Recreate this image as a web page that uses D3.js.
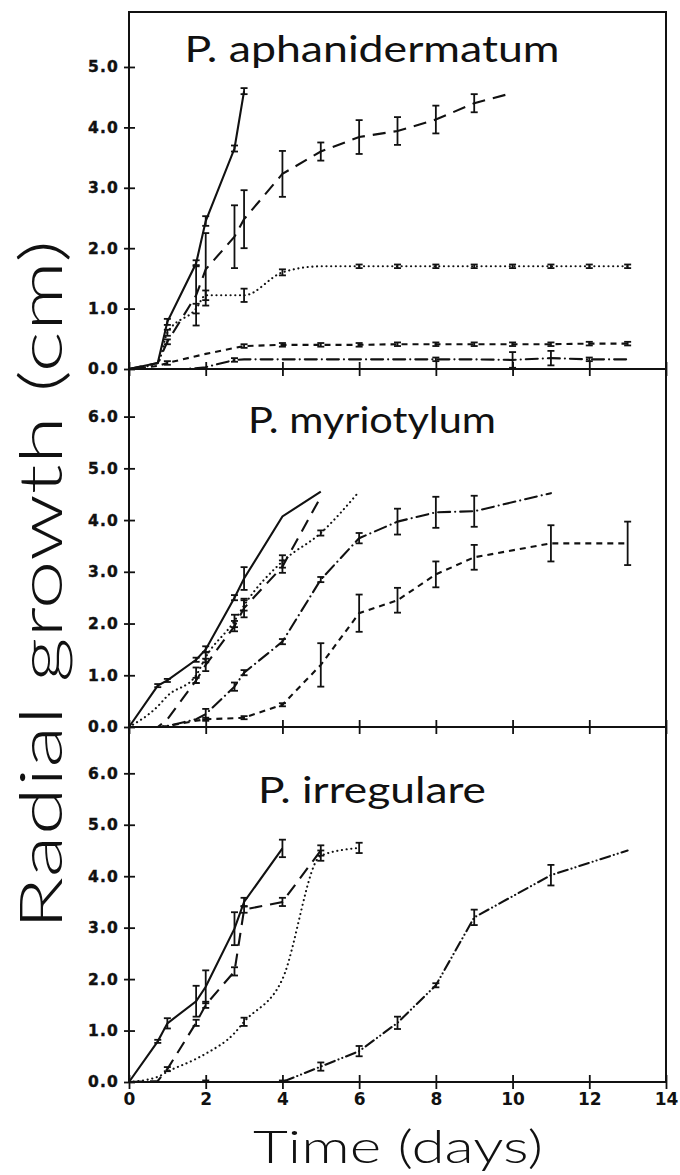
<!DOCTYPE html>
<html><head><meta charset="utf-8">
<script src="https://cdn.jsdelivr.net/npm/d3@7/dist/d3.min.js"></script>
<style>body{margin:0;background:#fff}</style>
</head><body>
<svg id="c" width="680" height="1175"></svg>
<script>
// ---------- DATA ----------
const xTicks = [0, 2, 4, 6, 8, 10, 12, 14];
const yTicksTop = [0, 1, 2, 3, 4, 5];
const yTicksLower = [0, 1, 2, 3, 4, 5, 6];
const panelTitles = ["P. aphanidermatum", "P. myriotylum", "P. irregulare"];
const xTitle = "Time (days)";
const yTitle = "Radial growth (cm)";

// each point: [day, radial growth (cm), error]
// P. aphanidermatum
const aphSolid = [[0,0,0],[0.75,0.1,0],[1,0.78,0.05],[1.75,1.75,0.05],[2,2.45,0.08],[2.75,3.65,0.05],[3,4.6,0.05]];
const aphLongDash = [[0,0,0],[0.75,0.1,0],[1,0.45,0.04],[1.75,1.22,0.5],[2,1.65,0.6],[2.75,2.19,0.52],[3,2.48,0.48],[4,3.23,0.38],[5,3.6,0.15],[6,3.84,0.28],[7,3.94,0.23],[8,4.13,0.23],[9,4.4,0.15],[10,4.57,0]];
const aphDotted = [[0,0,0],[0.75,0.1,0],[1,0.6,0.05],[1.75,1.0,0.08],[2,1.22,0.08],[3,1.22,0.11],[4,1.6,0.05],[5,1.7,0],[6,1.7,0.03],[7,1.7,0.03],[8,1.7,0.03],[9,1.7,0.03],[10,1.7,0.03],[11,1.7,0.03],[12,1.7,0.03],[13,1.7,0.03]];
const aphShortDash = [[0,0,0],[0.75,0.05,0],[1,0.1,0.03],[2,0.25,0],[3,0.38,0.03],[4,0.4,0.03],[5,0.4,0.03],[6,0.4,0.03],[7,0.41,0.03],[8,0.41,0.03],[9,0.41,0.03],[10,0.41,0.03],[11,0.41,0.03],[12,0.42,0.03],[13,0.42,0.03]];
const aphDashDot = [[0,0,0],[0.75,0,0],[1.5,0,0],[2,0.03,0],[2.75,0.15,0.03],[3,0.16,0],[4,0.16,0],[5,0.16,0],[6,0.16,0],[7,0.16,0],[8,0.16,0.03],[9,0.16,0],[10,0.15,0.13],[11,0.18,0.12],[12,0.16,0.03],[13,0.16,0]];

// P. myriotylum
const myrSolid = [[0,0,0],[0.75,0.8,0.03],[1,0.9,0.03],[1.75,1.3,0.04],[2,1.5,0.06],[2.75,2.5,0.05],[3,2.87,0.22],[4,4.07,0],[5,4.55,0]];
const myrLongDash = [[0,0,0],[0.75,0,0],[1,0.15,0],[1.75,0.9,0.05],[2,1.2,0.12],[2.75,1.95,0.1],[3,2.3,0.18],[4,3.1,0.12],[5,4.45,0]];
const myrDotted = [[0,0,0],[0.75,0.4,0],[1,0.6,0],[1.75,1.0,0.15],[2,1.35,0.1],[2.75,2.05,0.12],[3,2.35,0.1],[4,3.2,0.12],[5,3.75,0.05],[6,4.55,0]];
const myrDashDot = [[0,0,0],[0.75,0,0],[1,0.02,0],[1.75,0.15,0],[2,0.25,0.1],[2.75,0.78,0.08],[3,1.05,0.05],[4,1.65,0.05],[5,2.85,0.05],[6,3.65,0.1],[7,3.97,0.25],[8,4.15,0.3],[9,4.17,0.3],[11,4.52,0]];
const myrShortDash = [[0,0,0],[0.75,0,0],[1,0.02,0],[1.75,0.12,0],[2,0.15,0.03],[2.75,0.17,0],[3,0.18,0.03],[4,0.43,0.03],[5,1.2,0.42],[6,2.2,0.36],[7,2.45,0.24],[8,2.95,0.25],[9,3.28,0.24],[11,3.55,0.35],[13,3.55,0.42]];

// P. irregulare
const irrSolid = [[0,0,0],[0.75,0.79,0.03],[1,1.14,0.1],[1.75,1.57,0.3],[2,1.85,0.32],[2.75,2.98,0.32],[3,3.5,0.08],[4,4.54,0.17]];
const irrLongDash = [[0,0,0],[0.75,0.02,0],[1,0.25,0.04],[1.75,1.15,0.06],[2,1.5,0.06],[2.75,2.15,0.08],[3,3.35,0.06],[4,3.5,0.08],[5,4.5,0.1]];
const irrDotted = [[0,0,0],[0.75,0.1,0],[1,0.2,0],[1.75,0.45,0],[2,0.55,0],[2.75,0.95,0],[3,1.17,0.08],[4,2.0,0],[5,4.4,0.1],[6,4.55,0.1]];
const irrDashDotDot = [[0,0,0],[1,0,0],[2,0,0.03],[3,0,0],[4,0,0.03],[5,0.3,0.08],[6,0.6,0.1],[7,1.15,0.12],[8,1.88,0.04],[9,3.2,0.15],[11,4.02,0.2],[13,4.5,0]];

// ---------- STYLES / LAYOUT ----------
const dashes = {
  solid: null,
  longdash: "13,8",
  dotted: "0.1,4.6",
  shortdash: "6,5",
  dashdot: "12,5,0.1,5",
  dashdotdot: "10,4,0.1,4,0.1,4"
};
const panels = [
  {title: panelTitles[0], top: 12, bottom: 369, ymax: 5.91, ticks: yTicksTop, titleY: 62, titleW: 375,
   series: [[aphSolid,"solid"],[aphLongDash,"longdash"],[aphDotted,"dotted"],[aphShortDash,"shortdash"],[aphDashDot,"dashdot"]]},
  {title: panelTitles[1], top: 369, bottom: 727, ymax: 6.92, ticks: yTicksLower, titleY: 433, titleW: 248,
   series: [[myrSolid,"solid"],[myrLongDash,"longdash"],[myrDotted,"dotted"],[myrDashDot,"dashdot"],[myrShortDash,"shortdash"]]},
  {title: panelTitles[2], top: 727, bottom: 1082, ymax: 6.9, ticks: yTicksLower, titleY: 803, titleW: 228,
   series: [[irrSolid,"solid"],[irrLongDash,"longdash"],[irrDotted,"dotted"],[irrDashDotDot,"dashdotdot"]]}
];

const L = 129, R = 666;
const svg = d3.select("#c");
const x = d3.scaleLinear().domain([0, 14]).range([L, R]);

panels.forEach((p, i) => {
  const y = d3.scaleLinear().domain([0, p.ymax]).range([p.bottom, p.top]);
  const g = svg.append("g");

  // frame
  g.append("rect").attr("x", L).attr("y", p.top).attr("width", R - L).attr("height", p.bottom - p.top)
    .attr("fill", "none").attr("stroke", "#111").attr("stroke-width", 2);

  // y axis
  const ya = g.append("g").attr("transform", `translate(${L},0)`)
    .call(d3.axisLeft(y).tickValues(p.ticks).tickFormat(d3.format(".1f")).tickSize(5).tickPadding(5));
  ya.select(".domain").remove();
  ya.selectAll(".tick line").attr("x1", 6).attr("stroke", "#111").attr("stroke-width", 1.8);
  ya.selectAll(".tick text").attr("font-family", "DejaVu Sans").attr("font-weight", "bold")
    .attr("font-size", 15.5).attr("letter-spacing", 1.2).attr("fill", "#111")
    .attr("stroke", "#111").attr("stroke-width", 0.4);

  // x axis at panel bottom
  const xa = g.append("g").attr("transform", `translate(0,${p.bottom})`)
    .call(d3.axisBottom(x).tickValues(xTicks).tickSize(7).tickPadding(4)
      .tickFormat(i === panels.length - 1 ? d3.format("d") : () => ""));
  xa.select(".domain").remove();
  xa.selectAll(".tick line").attr("y1", -7).attr("stroke", "#111").attr("stroke-width", 1.8);
  xa.selectAll(".tick text").attr("font-family", "DejaVu Sans").attr("font-weight", "bold")
    .attr("font-size", 17).attr("fill", "#111");

  // title
  g.append("text").attr("x", 372).attr("y", p.titleY).attr("text-anchor", "middle")
    .attr("font-family", "Lato").attr("font-size", 37).attr("fill", "#111")
    .attr("textLength", p.titleW).attr("lengthAdjust", "spacingAndGlyphs").text(p.title);

  // series
  p.series.forEach(([data, style]) => {
    const line = d3.line().x(d => x(d[0])).y(d => y(d[1]))
      .curve(style === "dotted" ? d3.curveMonotoneX : d3.curveLinear);
    const path = g.append("path").datum(data).attr("d", line)
      .attr("fill", "none").attr("stroke", "#111")
      .attr("stroke-width", 2.1)
      .attr("stroke-linecap", style === "dotted" || style.startsWith("dashdot") ? "round" : "butt");
    if (dashes[style]) path.attr("stroke-dasharray", dashes[style]);

    const eb = g.append("g").attr("stroke", "#111").attr("stroke-width", 1.8);
    data.filter(d => d[2] > 0).forEach(d => {
      const y1 = y(Math.max(0, d[1] - d[2])), y2 = y(d[1] + d[2]), cx = x(d[0]);
      eb.append("line").attr("x1", cx).attr("x2", cx).attr("y1", y1).attr("y2", y2);
      eb.append("line").attr("x1", cx - 3.5).attr("x2", cx + 3.5).attr("y1", y1).attr("y2", y1);
      eb.append("line").attr("x1", cx - 3.5).attr("x2", cx + 3.5).attr("y1", y2).attr("y2", y2);
    });
  });
});

// axis titles
svg.append("text").attr("transform", "translate(62,585) rotate(-90)").attr("text-anchor", "middle")
  .attr("font-family", "Lato").attr("font-weight", 300).attr("font-size", 60).attr("fill", "#111")
  .attr("textLength", 690).attr("lengthAdjust", "spacingAndGlyphs").text(yTitle);
svg.append("text").attr("x", 398).attr("y", 1163).attr("text-anchor", "middle")
  .attr("font-family", "Lato").attr("font-weight", 300).attr("font-size", 46).attr("fill", "#111")
  .attr("textLength", 290).attr("lengthAdjust", "spacingAndGlyphs").text(xTitle);
</script>
</body></html>
